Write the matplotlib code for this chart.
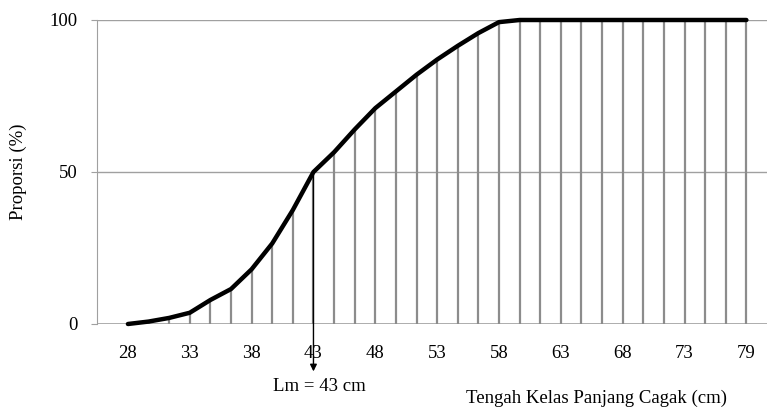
import matplotlib.pyplot as plt
import numpy as np

plt.rcParams['font.family'] = ['Liberation Serif', 'DejaVu Serif']

# class midpoints (cm), step 1.7
kelas = [28.0, 29.7, 31.4, 33.1, 34.8, 36.5, 38.2, 39.9, 41.6, 43.3, 45.0,
         46.7, 48.4, 50.1, 51.8, 53.5, 55.2, 56.9, 58.6, 60.3, 62.0, 63.7,
         65.4, 67.1, 68.8, 70.5, 72.2, 73.9, 75.6, 77.3, 79.0]
proporsi = [0, 0.8, 2, 3.7, 7.9, 11.5, 18, 26.5, 37.5, 50, 56.5,
            64, 71, 76.5, 82, 87, 91.5, 95.7, 99.3, 100, 100, 100,
            100, 100, 100, 100, 100, 100, 100, 100, 100]
tick_idx = [0, 3, 6, 9, 12, 15, 18, 21, 24, 27, 30]
tick_lbl = ['28', '33', '38', '43', '48', '53', '58', '63', '68', '73', '79']
lm_idx = 9

x = np.arange(len(kelas))
gray = '#8c8c8c'
fs = 13.5

fig = plt.figure(figsize=(7.67, 4.09), dpi=100)
ax = fig.add_axes([97/767, 85/409, 1 - 97/767, 304/409])

# drop lines
ax.vlines(x, 0, proporsi, color=gray, lw=1.6, zorder=2)
ax.plot(x, proporsi, color='black', lw=3.2, solid_joinstyle='round',
        solid_capstyle='round', zorder=4, clip_on=False)

for yv in [50, 100]:
    ax.axhline(yv, color='#a0a0a0', lw=1, zorder=1)
ax.axhline(0, color='#a0a0a0', lw=1.2, zorder=1)

ax.set_xlim(-1.5, 31)
ax.set_ylim(0, 100)
ax.set_yticks([0, 50, 100])
ax.set_xticks(tick_idx)
ax.set_xticklabels(tick_lbl)

for s in ['top', 'right', 'bottom']:
    ax.spines[s].set_visible(False)
ax.spines['left'].set_color('#a0a0a0')
ax.tick_params(axis='y', length=4, color='#a0a0a0', pad=10, labelsize=fs)
ax.tick_params(axis='x', length=0, pad=15, labelsize=fs)

# Lm arrow
ax.annotate('', xy=(lm_idx, -16.5), xytext=(lm_idx, proporsi[lm_idx]),
            arrowprops=dict(arrowstyle='-|>', color='black', lw=1,
                            mutation_scale=10), annotation_clip=False, zorder=5)
ax.text(lm_idx + 0.3, -20.5, 'Lm = 43 cm', ha='center', va='center', fontsize=fs)

ax.set_ylabel('Proporsi (%)', fontsize=fs)
ax.yaxis.set_label_coords(-0.105, 0.5)
fig.text(596/767, 1 - 398/409, 'Tengah Kelas Panjang Cagak (cm)',
         ha='center', va='center', fontsize=fs)

fig.savefig('out.png', dpi=100)
